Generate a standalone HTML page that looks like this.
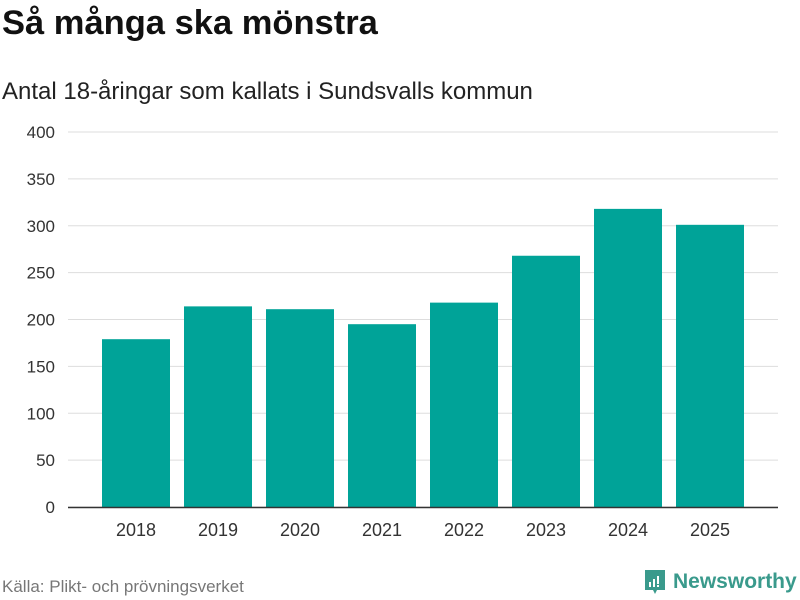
<!DOCTYPE html>
<html><head><meta charset="utf-8"><style>
body{margin:0;width:800px;height:600px;background:#fff;font-family:"Liberation Sans",sans-serif;overflow:hidden;position:relative}
.t{position:absolute;left:2px;top:4px;font-size:34.5px;font-weight:bold;color:#111}
.s{position:absolute;left:2px;top:78px;font-size:24px;color:#222}
.src{position:absolute;left:2px;top:577px;font-size:17px;color:#777}
.logo{position:absolute;left:643px;top:568px;display:flex;align-items:center;gap:6px;color:#3a9a8c;font-size:21px;font-weight:bold}
</style></head><body>
<div class="t">Så många ska mönstra</div>
<div class="s">Antal 18-åringar som kallats i Sundsvalls kommun</div>
<svg id="c" width="800" height="600" style="position:absolute;left:0;top:0"></svg>
<div class="src">Källa: Plikt- och prövningsverket</div>
<div class="logo"><svg width="24" height="28" viewBox="0 0 24 28"><path d="M2 2h20v20h-8l-2 4-2-4H2z" fill="#3a9a8c"/><rect x="6" y="14" width="2" height="5" fill="#fff"/><rect x="10" y="11" width="2" height="8" fill="#fff"/><rect x="14" y="8" width="2" height="8" fill="#fff"/><rect x="14" y="17" width="2" height="2" fill="#fff"/></svg><span>Newsworthy</span></div>
<script>
const categories=["2018","2019","2020","2021","2022","2023","2024","2025"];
const values=[179,214,211,195,218,268,318,301];
const yTicks=[0,50,100,150,200,250,300,350,400];
const svg=document.getElementById('c');const NS='http://www.w3.org/2000/svg';
const y=v=>507-v*(375/400);
const x=i=>95+i*82;
function mk(t,a){const e=document.createElementNS(NS,t);for(const k in a)e.setAttribute(k,a[k]);svg.appendChild(e);return e;}
yTicks.forEach(v=>{
 const l=mk('line',{x1:68,x2:778,y1:y(v),y2:y(v),stroke:'#ddd','stroke-width':1});
 
 
 const t=mk('text',{x:55,y:y(v)+6,'text-anchor':'end','font-size':17,fill:'#333','font-family':'Liberation Sans, sans-serif'});t.textContent=v;
 
 
});
values.forEach((v,i)=>{
 const r=mk('rect',{x:x(i)+7,y:y(v),width:68,height:y(0)-y(v),fill:'#00a398'});
 
 
 const t=mk('text',{x:x(i)+41,y:536,'text-anchor':'middle','font-size':18,fill:'#333','font-family':'Liberation Sans, sans-serif'});t.textContent=categories[i];
 
 
});
const ax=mk('line',{x1:68,x2:778,y1:507.5,y2:507.5,stroke:'#333','stroke-width':1.5});


</script>
</body></html>
